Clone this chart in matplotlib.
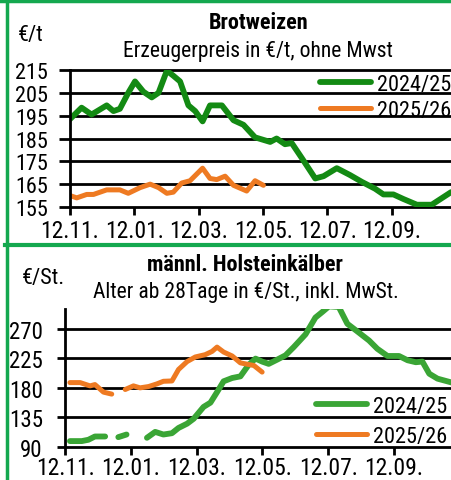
import matplotlib
matplotlib.use("Agg")
from matplotlib import pyplot as plt
from matplotlib.lines import Line2D
import numpy as np

plt.rcParams['font.family'] = ['Roboto Condensed', 'DejaVu Sans']

# x in Monaten ab 12.11.
monate = [0, 2, 4, 6, 8, 10]
monat_labels = ['12.11.', '12.01.', '12.03.', '12.05.', '12.07.', '12.09.']

# Brotweizen
weizen_24_x = [0, 0.36, 0.67, 1.14, 1.35, 1.55, 1.81, 2.02, 2.28, 2.54, 2.75, 3.01, 3.21, 3.42,
               3.68, 3.89, 4.12, 4.35, 4.72, 5.08, 5.39, 5.75, 6.22, 6.42, 6.68, 6.89, 7.2,
               7.62, 7.88, 8.29, 8.7, 9.07, 9.48, 9.74, 10.05, 10.36, 10.78, 11.24, 11.84]
weizen_24_y = [193.5, 198.5, 195.5, 199.5, 197, 198, 205, 210, 205.5, 203, 205, 214.7, 212.5, 210,
               199.5, 197, 192.5, 199.5, 199.5, 193, 191, 185.5, 183.5, 185, 182.5, 183, 176.5,
               167.5, 168.5, 172, 169, 166, 163, 160.5, 160.5, 158.5, 156, 156, 161.5]
weizen_25_x = [0, 0.21, 0.52, 0.73, 1.14, 1.55, 1.81, 2.18, 2.49, 2.75, 3.01, 3.21, 3.47, 3.73,
               4.12, 4.35, 4.56, 4.82, 5.08, 5.49, 5.75, 6.01]
weizen_25_y = [160, 159, 160.5, 160.5, 162.5, 162.5, 161, 163.5, 165, 163.5, 161, 161.5, 165.5, 166.5,
               172, 167.5, 167, 168.5, 164.5, 162, 166.5, 164.5]
weizen_ticks = [155, 165, 175, 185, 195, 205, 215]

# männl. Holsteinkälber (nan = Lücke)
kalb_24_x = [0.15, 0.51, 0.71, 0.91, 1.22, 1.42, 1.62, 1.87, 2.2, 2.49, 2.74, 2.99, 3.25, 3.45,
             3.71, 3.91, 4.21, 4.42, 4.62, 4.82, 5.08, 5.33, 5.58, 5.79, 5.99, 6.19, 6.45, 6.7,
             6.95, 7.31, 7.61, 7.82, 8.02, 8.32, 8.58, 8.88, 9.24, 9.49, 9.8, 10.15, 10.41,
             10.66, 10.86, 11.07, 11.32, 11.76]
kalb_24_y = [99, 99, 101, 106, 106, np.nan, 105, 109, np.nan, 104, 113, 109, 111, 119,
             125.5, 133, 151, 157.5, 173.5, 190, 195, 197.5, 215, 224.5, 220, 216.5, 223, 229.5,
             242, 261.5, 287, 295.5, 304, 303, 277.5, 266, 252, 239.5, 228.5, 228.5, 222,
             219, 220, 201.5, 194, 188]
kalb_25_x = [0.15, 0.46, 0.76, 0.91, 1.17, 1.42, 1.6, 1.83, 2.08, 2.28, 2.54, 2.79, 2.99, 3.25,
             3.45, 3.71, 3.96, 4.26, 4.47, 4.62, 4.82, 5.08, 5.33, 5.74, 5.99]
kalb_25_y = [188, 188, 183, 185, 173.5, 170.5, np.nan, 177.5, 183, 180, 182, 186, 190, 190.5,
             208, 220, 227, 230.5, 235.5, 242, 234.5, 228.5, 218, 214, 204]
kalb_ticks = [90, 135, 180, 225, 270]

W, H = 451, 481
fig = plt.figure(figsize=(W / 100, H / 100), dpi=100)


def achse(l, r, t, b):
    return fig.add_axes([l / W, 1 - b / H, (r - l) / W, (b - t) / H])


def stil(ax, xmax, ylim, yticks, ylen, ypad, ysize, xpad):
    ax.set_xlim(0, xmax)
    ax.set_ylim(*ylim)
    ax.set_yticks(yticks)
    ax.set_xticks(monate)
    ax.set_xticklabels(monat_labels)
    for s in ['top', 'right', 'bottom']:
        ax.spines[s].set_visible(False)
    ax.spines['left'].set_linewidth(2)
    ax.tick_params(axis='y', length=ylen, width=2, pad=ypad, labelsize=ysize)
    ax.tick_params(axis='x', length=6, width=2, pad=xpad, labelsize=17)
    ax.grid(axis='y', color='black', lw=2)
    for g in ax.get_ygridlines():
        g.set_clip_on(False)
    ax.set_axisbelow(True)
    ax.patch.set_alpha(0)


gruen1 = '#138a13'
gruen2 = '#3aa535'
orange = '#ee7a22'

# oben
ax1 = achse(70, 452, 71, 208)
ax1.plot(weizen_24_x, weizen_24_y, color=gruen1, lw=4.2, label='2024/25', solid_capstyle='round')
ax1.plot(weizen_25_x, weizen_25_y, color=orange, lw=3.6, label='2025/26', solid_capstyle='round')
stil(ax1, 11.87, (155, 215), weizen_ticks, 8, 8, 16, 3)
ax1.legend(loc='upper right', bbox_to_anchor=(451 / W, 1 - 75 / H), bbox_transform=fig.transFigure,
           frameon=False, fontsize=16, handlelength=2.3, handletextpad=0.25, labelspacing=0.22,
           borderpad=0, borderaxespad=0)

fig.text(259 / W, 1 - 23 / H, 'Brotweizen', ha='center', va='center', fontsize=16, fontweight='bold')
fig.text(258 / W, 1 - 52 / H, 'Erzeugerpreis in €/t, ohne Mwst', ha='center', va='center', fontsize=15.6)
fig.text(18 / W, 1 - 36 / H, '€/t', ha='left', va='center', fontsize=16)

# unten
ax2 = achse(65, 452, 310, 448)
ax2.plot(kalb_24_x, kalb_24_y, color=gruen2, lw=4.2, label='2024/25', solid_capstyle='round')
ax2.plot(kalb_25_x, kalb_25_y, color=orange, lw=3.6, label='2025/26', solid_capstyle='round')
stil(ax2, 11.76, (90, 300), kalb_ticks, 6, 10, 16.5, 0.5)
ax2.legend(loc='upper right', bbox_to_anchor=(447 / W, 1 - 397 / H), bbox_transform=fig.transFigure,
           frameon=False, fontsize=16, handlelength=2.3, handletextpad=0.25, labelspacing=0.4,
           borderpad=0, borderaxespad=0)

fig.text(245 / W, 1 - 265 / H, 'männl. Holsteinkälber', ha='center', va='center', fontsize=16, fontweight='bold')
fig.text(246 / W, 1 - 293 / H, 'Alter ab 28Tage in €/St., inkl. MwSt.', ha='center', va='center', fontsize=15.6)
fig.text(22 / W, 1 - 279 / H, '€/St.', ha='left', va='center', fontsize=16)

# grüner Rahmen
rahmen = '#14a84f'
fig.add_artist(Line2D([0, 1], [1 - 1.5 / H, 1 - 1.5 / H], color=rahmen, lw=2.5))
fig.add_artist(Line2D([6.5 / W, 6.5 / W], [0, 1], color=rahmen, lw=2.5))
fig.add_artist(Line2D([5 / W, 1], [1 - 246 / H, 1 - 246 / H], color=rahmen, lw=3))

fig.savefig('out.png', dpi=100)
